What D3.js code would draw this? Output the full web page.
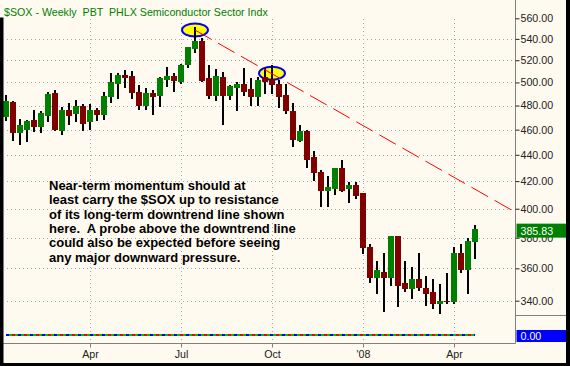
<!DOCTYPE html>
<html>
<head>
<meta charset="utf-8">
<script src="https://cdn.jsdelivr.net/npm/d3@7"></script>
<style>
body { margin: 0; background: #fffaf0; }
svg { display: block; font-family: "Liberation Sans", Arial, sans-serif; }
</style>
</head>
<body>
<div class="chart"></div>
<script>
const width = 570
const height = 366

// weekly bars, Monday dates
const firstWeek = "2007-01-08"
const lastWeek = "2008-04-21"

const open = [
  470, 483, 457, 460, 468, 462, 471, 491, 459, 476, 473, 480, 466, 476, 472, 487, 499,
  507, 506, 492, 480, 491, 488, 502, 506, 500, 516, 530, 538, 504, 488, 505, 488, 495,
  499, 494, 487, 505, 503, 499, 489, 475, 451, 459, 438, 427, 413, 414, 430, 414, 417,
  411, 374, 354, 358, 354, 381, 351, 347, 353, 348, 345, 338, 340, 339, 370, 359, 377]
const high = [
  489, 484, 469, 468, 476, 475, 492, 493, 479, 482, 485, 481, 481, 478, 492, 508, 508,
  511, 510, 498, 495, 493, 505, 514, 508, 517, 532, 551, 541, 516, 512, 509, 498, 500,
  513, 504, 505, 513, 516, 502, 499, 482, 464, 460, 443, 428, 424, 430, 436, 419, 419,
  411, 376, 365, 370, 381, 381, 365, 361, 370, 355, 353, 350, 357, 374, 376, 380, 389]
const low = [
  467, 451, 448, 450, 458, 457, 466, 459, 456, 464, 466, 459, 460, 467, 468, 482, 486,
  495, 486, 476, 476, 472, 479, 496, 492, 499, 513, 527, 500, 486, 484, 464, 485, 475,
  488, 480, 480, 490, 490, 478, 473, 446, 450, 430, 420, 401, 401, 410, 412, 404, 407,
  369, 351, 344, 333, 349, 336, 345, 341, 346, 337, 335, 332, 338, 338, 357, 344, 366]
const close = [
  484, 457, 464, 467, 462, 474, 490, 460, 476, 471, 480, 465, 476, 472, 488, 500, 507,
  504, 491, 480, 491, 487, 504, 506, 501, 516, 532, 538, 501, 488, 506, 488, 497, 499,
  492, 487, 502, 500, 498, 487, 475, 452, 459, 436, 426, 413, 416, 430, 413, 417, 409,
  373, 354, 359, 354, 381, 349, 347, 353, 348, 344, 338, 340, 339, 370, 359, 378, 385.83]

// lower panel indicator (flat at zero)
const indicator = [
  0, 0, 0, 0, 0, 0, 0, 0, 0, 0, 0, 0, 0, 0, 0, 0, 0,
  0, 0, 0, 0, 0, 0, 0, 0, 0, 0, 0, 0, 0, 0, 0, 0, 0,
  0, 0, 0, 0, 0, 0, 0, 0, 0, 0, 0, 0, 0, 0, 0, 0, 0,
  0, 0, 0, 0, 0, 0, 0, 0, 0, 0, 0, 0, 0, 0, 0, 0, 0]

const priceTicks = [340, 360, 380, 400, 420, 440, 460, 480, 500, 520, 540, 560]
const monthTicks = ["2007-04-02", "2007-07-02", "2007-10-01", "2007-12-31", "2008-03-31"]
const monthLabels = ["Apr", "Jul", "Oct", "'08", "Apr"]

const lastPrice = 385.83
const lastIndicator = 0

// downtrend line and the two circled highs
const trendline = [["2007-07-16", 548.5], ["2008-05-31", 397.7]]
const highlights = [["2007-07-16", 548.5], ["2007-10-01", 508.2]]

const title = "$SOX - Weekly  PBT  PHLX Semiconductor Sector Indx"
const note = [
  "Near-term momentum should at",
  "least carry the $SOX up to resistance",
  "of its long-term downtrend line shown",
  "here.  A probe above the downtrend line",
  "could also be expected before seeing",
  "any major downward pressure."]

const parse = d3.utcParse("%Y-%m-%d")
const weeks = d3.utcMonday.range(parse(firstWeek), d3.utcDay.offset(parse(lastWeek), 1))
const data = weeks.map((d, i) => ({date: d, o: open[i], h: high[i], l: low[i], c: close[i], v: indicator[i]}))

const axisX = 515.5
const xScale = d3.scaleUtc()
    .domain([parse(firstWeek), parse(lastWeek)])
    .range([6, 475])
const yScale = d3.scaleLog()
    .domain([340, 560])
    .range([300.7, 18.3])
const yLower = d3.scaleLinear()
    .domain([-1, 1])
    .range([343, 327])

const svg = d3.select('.chart').append('svg')
    .attr("width", width)
    .attr("height", height)

svg.append("rect").attr("width", width).attr("height", height).attr("fill", "#fffaf0")

// grid
const grid = svg.append("g").attr("stroke", "#a8a8a8").attr("stroke-dasharray", "1,3")
grid.selectAll(".hg")
    .data(priceTicks.filter(p => p < 560))
    .enter().append("line")
    .attr("x1", 7).attr("x2", axisX - 1)
    .attr("y1", d => Math.round(yScale(d)) + 0.5)
    .attr("y2", d => Math.round(yScale(d)) + 0.5)
grid.selectAll(".vg")
    .data(monthTicks)
    .enter().append("line")
    .attr("x1", d => xScale(parse(d)) + 0.5).attr("x2", d => xScale(parse(d)) + 0.5)
    .attr("y1", 19).attr("y2", 343)

// circled highs
svg.selectAll(".hl")
    .data(highlights)
    .enter().append("ellipse")
    .attr("cx", d => xScale(parse(d[0])))
    .attr("cy", d => yScale(d[1]))
    .attr("rx", 13)
    .attr("ry", 6.5)
    .attr("fill", "#ffff00")
    .attr("stroke", "#0000ff")
    .attr("stroke-width", 2)

// candles
const candles = svg.append("g").attr("shape-rendering", "crispEdges")
candles.selectAll(".wick")
    .data(data)
    .enter().append("rect")
    .attr("x", d => xScale(d.date) - 1)
    .attr("width", 2)
    .attr("y", d => yScale(d.h))
    .attr("height", d => Math.max(1, yScale(d.l) - yScale(d.h)))
    .attr("fill", "#000")
candles.selectAll(".body")
    .data(data)
    .enter().append("rect")
    .attr("x", d => xScale(d.date) - 3)
    .attr("width", 6)
    .attr("y", d => yScale(Math.max(d.o, d.c)))
    .attr("height", d => Math.max(1, Math.abs(yScale(d.o) - yScale(d.c))))
    .attr("fill", d => d.c >= d.o ? "#008000" : "#800000")

// downtrend line
svg.append("line")
    .attr("x1", xScale(parse(trendline[0][0]))).attr("y1", yScale(trendline[0][1]))
    .attr("x2", xScale(parse(trendline[1][0]))).attr("y2", yScale(trendline[1][1]))
    .attr("stroke", "#ff0000")
    .attr("stroke-width", 1)
    .attr("stroke-dasharray", "19,7.5")

// lower indicator, drawn as a multicolour dotted line
const ind = d3.line().x(d => xScale(d.date)).y(d => yLower(d.v))
const indPath = ind(data)
svg.append("path").attr("d", indPath).attr("fill", "none").attr("stroke", "#00c000").attr("stroke-width", 2)
svg.append("path").attr("d", indPath).attr("fill", "none").attr("stroke", "#0000ff").attr("stroke-width", 2)
    .attr("stroke-dasharray", "3,9")
svg.append("path").attr("d", indPath).attr("fill", "none").attr("stroke", "#ff0000").attr("stroke-width", 2)
    .attr("stroke-dasharray", "3,9").attr("stroke-dashoffset", -6)

// axes frame
svg.append("line").attr("x1", axisX).attr("x2", axisX).attr("y1", 0).attr("y2", 343.5)
    .attr("stroke", "#808080")
svg.append("line").attr("x1", 3).attr("x2", axisX).attr("y1", 343.5).attr("y2", 343.5)
    .attr("stroke", "#808080")
svg.append("line").attr("x1", axisX).attr("x2", 567).attr("y1", 315.5).attr("y2", 315.5)
    .attr("stroke", "#808080")

const yAxis = d3.axisRight(yScale)
    .tickValues(priceTicks)
    .tickFormat(d3.format(".2f"))
    .tickSize(4)
    .tickPadding(1)
const gy = svg.append("g")
    .attr("transform", `translate(${axisX},0)`)
    .call(yAxis)
gy.select(".domain").remove()
gy.selectAll("text").attr("font-size", 10.67).attr("fill", "#222").attr("font-family", "Liberation Sans, Arial, sans-serif")
gy.selectAll("line").attr("stroke", "#222")

const xAxis = d3.axisBottom(xScale)
    .tickValues(monthTicks.map(parse))
    .tickFormat((d, i) => monthLabels[i])
    .tickSize(4)
    .tickPadding(3)
const gx = svg.append("g")
    .attr("transform", "translate(0,343.5)")
    .call(xAxis)
gx.select(".domain").remove()
gx.selectAll("text").attr("font-size", 10.67).attr("fill", "#222").attr("font-family", "Liberation Sans, Arial, sans-serif")
gx.selectAll("line").attr("stroke", "#808080")

// last value boxes
const ly = yScale(lastPrice)
svg.append("rect").attr("x", 516.5).attr("y", ly - 5.5).attr("width", 50).attr("height", 14).attr("fill", "#008000")
svg.append("text").attr("x", 520.5).attr("y", ly + 5.5).attr("fill", "#fff").attr("font-size", 10.67)
    .text(d3.format(".2f")(lastPrice))
const iy = yLower(lastIndicator)
svg.append("rect").attr("x", 516.5).attr("y", iy - 5).attr("width", 50).attr("height", 12).attr("fill", "#0000ff")
svg.append("text").attr("x", 520.5).attr("y", iy + 5).attr("fill", "#fff").attr("font-size", 10.67)
    .text(d3.format(".2f")(lastIndicator))

// annotation
svg.append("text")
    .attr("font-size", 13)
    .attr("font-weight", "bold")
    .attr("fill", "#000")
    .attr("xml:space", "preserve")
    .style("white-space", "pre")
    .selectAll("tspan")
    .data(note)
    .enter().append("tspan")
    .attr("x", 49)
    .attr("y", (d, i) => 190 + i * 14.3)
    .text(d => d)

// title
svg.append("text")
    .attr("x", 4).attr("y", 16)
    .attr("font-size", 10.67)
    .attr("fill", "#008000")
    .style("white-space", "pre")
    .text(title)

// black frame edges
svg.append("rect").attr("x", 0).attr("y", 17.5).attr("width", 3.5).attr("height", height).attr("fill", "#000")
svg.append("rect").attr("x", 566).attr("y", 0).attr("width", 4).attr("height", height).attr("fill", "#000")
svg.append("rect").attr("x", 0).attr("y", 363).attr("width", width).attr("height", 3).attr("fill", "#000")
</script>
</body>
</html>
